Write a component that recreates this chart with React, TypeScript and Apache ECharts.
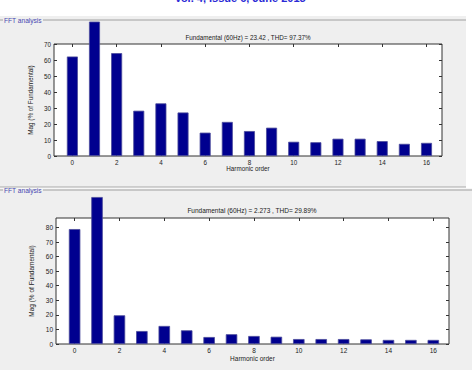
import React, { useEffect, useRef } from "react";
import * as echarts from "echarts";

const harmonics = [0, 1, 2, 3, 4, 5, 6, 7, 8, 9, 10, 11, 12, 13, 14, 15, 16];
const magTop = [62.2, 84, 64.3, 28.3, 32.9, 27.2, 14.6, 21.3, 15.6, 17.7, 8.9, 8.6, 10.8, 10.8, 9.3, 7.6, 8.2];
const magBottom = [78.9, 100.9, 19.7, 8.9, 12.4, 9.4, 4.8, 6.7, 5.5, 5.0, 3.4, 3.4, 3.4, 3.2, 2.8, 2.8, 2.8];
const xTicks = [0, 2, 4, 6, 8, 10, 12, 14, 16];
const yTicksBottom = [0, 10, 20, 30, 40, 50, 60, 70, 80];
const titleTop = "Fundamental (60Hz) = 23.42 , THD= 97.37%";
const titleBottom = "Fundamental (60Hz) = 2.273 , THD= 29.89%";
const panelLabel = "FFT analysis";
const header = "Vol. 4, Issue 6, June 2015";
const xName = "Harmonic order";
const yName = "Mag (% of Fundamental)";

const FONT = "Liberation Sans";
const BAR = "#00008f";
const PANEL = "#efefef";
const PANEL_TEXT = "#4848b0";

export default function App() {
  const ref = useRef<HTMLDivElement>(null);
  useEffect(() => {
    if (!ref.current) return;
    const chart = echarts.init(ref.current, undefined, { renderer: "svg" });

    const grids = [
      { left: 54, top: 44, width: 388, height: 112 },
      { left: 56, top: 218, width: 393, height: 126 },
    ];

    const mkX = (gi: number, fs: number, nameGap: number, labelMargin: number) => [
      {
        type: "value",
        gridIndex: gi,
        min: -0.83,
        max: 16.7,
        name: xName,
        nameLocation: "middle",
        nameGap,
        nameTextStyle: { fontFamily: FONT, fontSize: fs, color: "#222" },
        axisLine: { show: false, onZero: false },
        axisTick: { show: true, inside: true, length: 3, customValues: xTicks, lineStyle: { color: "#333" } },
        axisLabel: { show: true, customValues: xTicks, margin: labelMargin, fontFamily: FONT, fontSize: fs, color: "#222" },
        splitLine: { show: false },
      },
      {
        type: "value",
        gridIndex: gi,
        position: "top",
        min: -0.83,
        max: 16.7,
        axisLine: { show: false, onZero: false },
        axisTick: { show: true, inside: true, length: 3, customValues: xTicks, lineStyle: { color: "#333" } },
        axisLabel: { show: false },
        splitLine: { show: false },
      },
    ];

    const mkY = (gi: number, max: number, fs: number, nameGap: number, ticks?: number[]) => {
      const tick: any = { show: true, inside: true, length: 3, lineStyle: { color: "#333" } };
      const label: any = { show: true, margin: 3, fontFamily: FONT, fontSize: fs, color: "#222" };
      const base: any = { type: "value", gridIndex: gi, min: 0, max };
      if (ticks) {
        tick.customValues = ticks;
        label.customValues = ticks;
      } else {
        base.interval = 10;
      }
      return [
        {
          ...base,
          name: yName,
          nameLocation: "middle",
          nameGap,
          nameRotate: 90,
          nameTextStyle: { fontFamily: FONT, fontSize: fs, color: "#222" },
          axisLine: { show: false, onZero: false },
          axisTick: tick,
          axisLabel: label,
          splitLine: { show: false },
        },
        {
          ...base,
          position: "right",
          axisLine: { show: false, onZero: false },
          axisTick: tick,
          axisLabel: { show: false },
          splitLine: { show: false },
        },
      ];
    };

    const option: any = {
      animation: false,
      backgroundColor: "#ffffff",
      grid: grids.map((g) => ({
        ...g,
        show: true,
        backgroundColor: "#ffffff",
        borderColor: "#333333",
        borderWidth: 1,
        containLabel: false,
      })),
      xAxis: [...mkX(0, 6.3, 9, 3), ...mkX(1, 6.5, 9.5, 3)],
      yAxis: [...mkY(0, 70, 6.3, 13), ...mkY(1, 86.5, 6.5, 13.5, yTicksBottom)],
      series: [
        {
          type: "bar",
          xAxisIndex: 0,
          yAxisIndex: 0,
          clip: false,
          barWidth: 11,
          data: harmonics.map((h, i) => [h, magTop[i]]),
          itemStyle: { color: BAR, borderColor: "#4a4a9a", borderWidth: 0.8 },
        },
        {
          type: "bar",
          xAxisIndex: 2,
          yAxisIndex: 2,
          clip: false,
          barWidth: 11.5,
          data: harmonics.map((h, i) => [h, magBottom[i]]),
          itemStyle: { color: BAR, borderColor: "#4a4a9a", borderWidth: 0.8 },
        },
      ],
      graphic: [
        { type: "rect", z: -10, silent: true, shape: { x: 0, y: 16, width: 466, height: 171 }, style: { fill: PANEL } },
        { type: "rect", z: -10, silent: true, shape: { x: 0, y: 188.5, width: 472, height: 182 }, style: { fill: PANEL } },
        { type: "line", z: -5, shape: { x1: 0, y1: 20, x2: 3, y2: 20 }, style: { stroke: "#a0a0a0", lineWidth: 1 } },
        { type: "line", z: -5, shape: { x1: 43, y1: 20, x2: 466, y2: 20 }, style: { stroke: "#a0a0a0", lineWidth: 1 } },
        { type: "line", z: -5, shape: { x1: 0, y1: 187, x2: 466, y2: 187 }, style: { stroke: "#a8a8a8", lineWidth: 1 } },
        { type: "line", z: -5, shape: { x1: 0, y1: 190, x2: 3, y2: 190 }, style: { stroke: "#a0a0a0", lineWidth: 1 } },
        { type: "line", z: -5, shape: { x1: 43, y1: 190, x2: 472, y2: 190 }, style: { stroke: "#a0a0a0", lineWidth: 1 } },
        {
          type: "text", z: 5, x: 4, y: 20,
          style: { text: panelLabel, fontFamily: FONT, fontSize: 6.6, fill: PANEL_TEXT, textVerticalAlign: "middle", textAlign: "left" },
        },
        {
          type: "text", z: 5, x: 4, y: 190,
          style: { text: panelLabel, fontFamily: FONT, fontSize: 6.6, fill: PANEL_TEXT, textVerticalAlign: "middle", textAlign: "left" },
        },
        {
          type: "text", z: 5, x: 248, y: 37.5,
          style: { text: titleTop, fontFamily: FONT, fontSize: 6.3, fill: "#222", textVerticalAlign: "middle", textAlign: "center" },
        },
        {
          type: "text", z: 5, x: 252, y: 210.7,
          style: { text: titleBottom, fontFamily: FONT, fontSize: 6.5, fill: "#222", textVerticalAlign: "middle", textAlign: "center" },
        },
        {
          type: "text", z: 5, x: 240, y: 3,
          style: { text: header, fontFamily: FONT, fontSize: 11, fontWeight: "bold", fill: "#2a2ad6", textVerticalAlign: "bottom", textAlign: "center" },
        },
      ],
    };
    chart.setOption(option);
    return () => chart.dispose();
  }, []);
  return <div ref={ref} style={{ position: "fixed", left: 0, top: 0, width: 472, height: 370 }} />;
}
